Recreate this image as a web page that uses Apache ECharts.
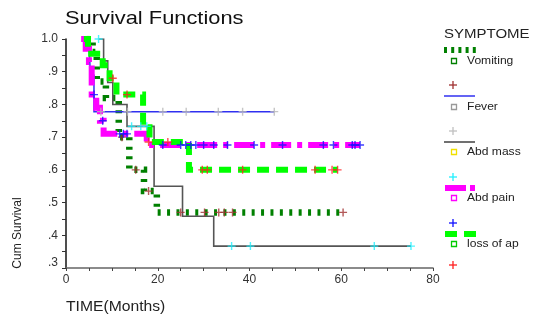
<!DOCTYPE html>
<html><head><meta charset="utf-8">
<script src="https://cdn.jsdelivr.net/npm/echarts@6/dist/echarts.min.js"></script>
<style>html,body{margin:0;padding:0;background:#fff}#c{width:536px;height:315px}</style>
</head><body><div id="c"></div>
<script>
// ---- data ----
var xTicks = [0, 20, 40, 60, 80];
var yTicks = ['.3', '.4', '.5', '.6', '.7', '.8', '.9', '1.0'];
var groups = ['Vomiting', 'Fever', 'Abd mass', 'Abd pain', 'loss of ap'];

// Kaplan-Meier steps: time of event, survival after event
var vomitingT = [4.5, 5.8, 6.7, 8.7, 11.5, 13.8, 17.0, 19.8, 60.4];
var vomitingS = [1.0, 0.96, 0.87, 0.82, 0.70, 0.60, 0.535, 0.47, 0.47];
var feverT = [5.0, 5.3, 6.1, 45.4];
var feverS = [1.0, 0.889, 0.778, 0.778];
var abdMassT = [7.1, 8.2, 9.1, 10.2, 13.3, 19.2, 25.4, 32.2, 75.2];
var abdMassS = [1.0, 0.933, 0.867, 0.80, 0.733, 0.55, 0.458, 0.367, 0.367];
var abdPainT = [3.3, 4.3, 5.0, 5.6, 6.6, 7.4, 8.2, 17.6, 64.1];
var abdPainS = [1.0, 0.97, 0.93, 0.83, 0.79, 0.75, 0.71, 0.676, 0.676];
var lossApT = [3.9, 4.8, 8.0, 9.5, 11.0, 16.8, 18.2, 26.8, 59.2];
var lossApS = [1.0, 0.955, 0.92, 0.88, 0.83, 0.73, 0.685, 0.60, 0.60];

// censored observations
var vomitingCensT = [12.2, 15.2, 18.0, 25.0, 30.2, 33.3, 34.5, 36.3, 60.4];
var vomitingCensS = [0.70, 0.60, 0.535, 0.47, 0.47, 0.47, 0.47, 0.47, 0.47];
var feverCensT = [7.6, 13.4, 21.1, 26.2, 33.2, 38.5, 45.4];
var feverCensS = [0.778, 0.778, 0.778, 0.778, 0.778, 0.778, 0.778];
var abdMassCensT = [7.1, 14.3, 16.3, 17.6, 36.1, 40.2, 67.2, 75.2];
var abdMassCensS = [1.0, 0.733, 0.733, 0.733, 0.367, 0.367, 0.367, 0.367];
var abdPainCensT = [6.1, 8.0, 11.7, 12.5, 13.3, 21.1, 25.0, 26.1, 27.2, 28.3, 30.0, 32.2, 35.2, 41.0, 47.2, 56.1, 58.3, 62.4, 63.0, 64.1];
var abdPainCensS = [0.83, 0.75, 0.71, 0.71, 0.71, 0.676, 0.676, 0.676, 0.676, 0.676, 0.676, 0.676, 0.676, 0.676, 0.676, 0.676, 0.676, 0.676, 0.676, 0.676];
var lossApCensT = [10.2, 13.3, 18.0, 22.2, 29.7, 30.8, 38.5, 54.3, 58.0, 59.2];
var lossApCensS = [0.88, 0.83, 0.685, 0.685, 0.60, 0.60, 0.60, 0.60, 0.60, 0.60];

// ---- chart ----
function pairs(t, s) { return t.map(function (v, i) { return [v, s[i]]; }); }
var PLUS = 'path://M-4,-0.7H4V0.7H-4Z M-0.7,-4H0.7V4H-0.7Z';

var lineDefs = [
  { name: groups[0], data: pairs(vomitingT, vomitingS), color: '#008000', width: 6.5, type: [3, 6.4] },
  { name: groups[1], data: pairs(feverT, feverS), color: '#3030f0', width: 1.5, type: 'solid' },
  { name: groups[2], data: pairs(abdMassT, abdMassS), color: '#555555', width: 1.6, type: 'solid' },
  { name: groups[3], data: pairs(abdPainT, abdPainS), color: '#ff00ff', width: 6, type: [20, 6, 5, 6] },
  { name: groups[4], data: pairs(lossApT, lossApS), color: '#00ff00', width: 6, type: [12, 7] }
];
var censDefs = [
  { data: pairs(vomitingCensT, vomitingCensS), color: '#a03030' },
  { data: pairs(feverCensT, feverCensS), color: '#b8b8b8' },
  { data: pairs(abdMassCensT, abdMassCensS), color: '#20f0ff' },
  { data: pairs(abdPainCensT, abdPainCensS), color: '#1010ff' },
  { data: pairs(lossApCensT, lossApCensS), color: '#ff2020' }
];

var series = [];
lineDefs.forEach(function (d, i) {
  series.push({
    type: 'line', name: d.name, data: d.data, step: 'end', symbol: 'none', silent: true,
    animation: false, z: 2 + i,
    lineStyle: { color: d.color, width: d.width, type: d.type, cap: 'butt', join: 'miter' }
  });
});
censDefs.forEach(function (d, i) {
  series.push({
    type: 'scatter', data: d.data, symbol: PLUS, symbolSize: 8, silent: true,
    animation: false, z: 10 + i, itemStyle: { color: d.color }
  });
});

// legend drawn as graphic elements
var FONT = '"Liberation Sans", Arial, sans-serif';
var g = [];
function txt(x, y, s, size, opts) {
  opts = opts || {};
  return {
    type: 'text', x: x, y: y, scaleX: opts.sx || 1, rotation: opts.rot || 0,
    style: { text: s, font: (opts.weight || 'normal') + ' ' + size + 'px ' + FONT, fill: opts.fill || '#222',
      align: opts.align || 'left', verticalAlign: 'middle' }, silent: true
  };
}
function seg(x1, x2, y, color, w, dash) {
  return { type: 'line', shape: { x1: x1, y1: y, x2: x2, y2: y }, silent: true,
    style: { stroke: color, lineWidth: w, lineDash: dash || null, lineCap: 'butt' } };
}
function sq(x, y, color) {
  return { type: 'rect', shape: { x: x - 2.5, y: y - 2.5, width: 5, height: 5 }, silent: true,
    style: { fill: 'none', stroke: color, lineWidth: 1.3 } };
}
function plus(x, y, color) {
  return { type: 'group', silent: true, children: [
    seg(x - 4, x + 4, y, color, 1.3),
    { type: 'line', shape: { x1: x, y1: y - 4, x2: x, y2: y + 4 }, style: { stroke: color, lineWidth: 1.3 }, silent: true }
  ] };
}
g.push(txt(65, 19, 'Survival Functions', 19, { sx: 1.15, fill: '#111' }));
g.push(txt(66, 307, 'TIME(Months)', 14, { sx: 1.12, fill: '#222' }));
g.push(txt(18, 233, 'Cum Survival', 12, { rot: Math.PI / 2, align: 'center', fill: '#222' }));

g.push(txt(444, 35, 'SYMPTOME', 12.5, { sx: 1.2, fill: '#222' }));
g.push(seg(444, 477, 50, '#008000', 6, [3, 4.2]));
g.push(sq(454, 61, '#008000'));
g.push(txt(467, 61, groups[0], 10.5, { sx: 1.15 }));
g.push(plus(453, 85, '#a03030'));
g.push(seg(444, 475, 96, '#3030f0', 1.5));
g.push(sq(454, 107, '#999999'));
g.push(txt(467, 107, groups[1], 10.5, { sx: 1.15 }));
g.push(plus(453, 131, '#c0c0c0'));
g.push(seg(444, 475, 142, '#707070', 2));
g.push(sq(454, 152, '#f0e000'));
g.push(txt(467, 152, groups[2], 10.5, { sx: 1.15 }));
g.push(plus(453, 177, '#20f0ff'));
g.push(seg(445, 466, 188, '#ff00ff', 6));
g.push(seg(470, 475, 188, '#ff00ff', 6));
g.push(sq(454, 198, '#ff00ff'));
g.push(txt(467, 198, groups[3], 10.5, { sx: 1.15 }));
g.push(plus(453, 223, '#1010ff'));
g.push(seg(445, 457, 234, '#00ff00', 6));
g.push(seg(464, 476, 234, '#00ff00', 6));
g.push(sq(454, 244, '#00cc00'));
g.push(txt(467, 244, groups[4], 10.5, { sx: 1.15 }));
g.push(plus(453, 265, '#ff2020'));

var chart = echarts.init(document.getElementById('c'), null, { renderer: 'canvas' });
chart.setOption({
  animation: false,
  backgroundColor: '#ffffff',
  grid: { left: 66, right: 103, top: 39, bottom: 47, containLabel: false },
  xAxis: {
    type: 'value', min: xTicks[0], max: xTicks[xTicks.length - 1], interval: 20,
    axisLine: { lineStyle: { color: '#666', width: 1.6 } },
    axisTick: { show: true, length: 3, lineStyle: { color: '#444' } },
    minorTick: { show: true, splitNumber: 4, length: 3, lineStyle: { color: '#444' } },
    splitLine: { show: false },
    axisLabel: { color: '#333', fontSize: 12, fontFamily: FONT, margin: 6,
      formatter: function (v) { return String(v); } }
  },
  yAxis: {
    type: 'value', min: 0.3, max: 1.0, interval: 0.1,
    axisLine: { show: true, lineStyle: { color: '#222', width: 1.6 } },
    axisTick: { show: true, length: 4, lineStyle: { color: '#333' } },
    minorTick: { show: true, splitNumber: 2, length: 4, lineStyle: { color: '#333' } },
    splitLine: { show: false },
    axisLabel: {
      color: '#333', fontSize: 12, fontFamily: FONT, margin: 8,
      formatter: function (v) {
        var i = Math.round(v * 10) - 3;
        var s = yTicks[i];
        return i === 0 ? '{low|' + s + '}' : s;
      },
      rich: { low: { fontSize: 12, fontFamily: FONT, color: '#333', padding: [0, 0, 10, 0] } }
    }
  },
  series: series,
  graphic: g
});
</script></body></html>
